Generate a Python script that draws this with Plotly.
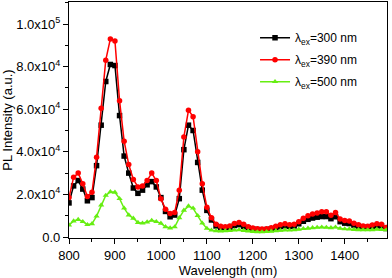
import plotly.graph_objects as go

wavelength = list(range(800, 1500, 10))

pl_300 = [16000, 24000, 26500, 22500, 17000, 18500, 33500, 52500, 73000, 81000,
          80500, 57000, 38000, 30000, 23000, 20500, 22000, 24500, 26000, 23500,
          18500, 12000, 9500, 10300, 18000, 41000, 52500, 50000, 35000, 22000,
          12500, 8000, 5200, 4400, 4200, 4500, 5400, 5800, 5000, 4200,
          3700, 3500, 3400, 3500, 3800, 4300, 4900, 5300, 5000, 5200,
          6200, 7400, 8300, 8900, 9300, 9600, 9600, 8600, 9500, 7200,
          6500, 6300, 5600, 5000, 4600, 4400, 4900, 5300, 5200, 4000]

pl_390 = [18500, 28000, 30000, 25000, 19000, 21000, 37500, 60500, 83000, 93000,
          92000, 64000, 45000, 34000, 27000, 23500, 24000, 26500, 30000, 26500,
          18000, 13000, 11000, 11500, 22000, 47000, 59500, 56500, 40000, 25000,
          14000, 9000, 6000, 5000, 4800, 5200, 6300, 6800, 6000, 4800,
          4200, 3900, 3800, 3900, 4300, 5000, 5800, 6200, 5800, 6000,
          7200, 8800, 10000, 10800, 11300, 11800, 11800, 10200, 11500, 8500,
          7800, 7500, 6500, 5800, 5200, 5000, 5600, 6200, 6000, 4500]

pl_500 = [5600, 7500, 8200, 7200, 5800, 6200, 9800, 15000, 19500, 21200,
          21000, 18000, 13500, 10300, 8800, 6800, 6500, 7000, 7800, 7200,
          6400, 4800, 4200, 4700, 9000, 12500, 14500, 13500, 10000, 6500,
          4000, 3200, 2900, 2800, 2900, 3000, 3200, 3300, 3000, 2800,
          2500, 2400, 2400, 2500, 2700, 2900, 3100, 3300, 3200, 3300,
          3600, 3900, 4100, 4300, 4500, 4600, 4500, 4300, 4600, 4000,
          3800, 3700, 3500, 3400, 3300, 3300, 3400, 3600, 3500, 3300]

series_names = ["λ<sub>ex</sub>=300 nm", "λ<sub>ex</sub>=390 nm", "λ<sub>ex</sub>=500 nm"]
series_colors = ["#000000", "#ff0000", "#66ee11"]
series_symbols = ["square", "circle", "triangle-up"]

x_tickvals = [800, 900, 1000, 1100, 1200, 1300, 1400]
x_ticktext = ["800", "900", "1000", "1100", "1200", "1300", "1400"]
y_tickvals = [0, 20000, 40000, 60000, 80000, 100000]
y_ticktext = ["0.0", "2.0x10<sup>4</sup>", "4.0x10<sup>4</sup>", "6.0x10<sup>4</sup>",
              "8.0x10<sup>4</sup>", "1.0x10<sup>5</sup>"]

fig = go.Figure()
for i, (name, ys, col, sym) in enumerate(zip(series_names, [pl_300, pl_390, pl_500],
                                              series_colors, series_symbols)):
    fig.add_trace(go.Scatter(
        x=wavelength, y=ys, name=name, mode="lines+markers", legendgroup=f"g{i}",
        line=dict(color=col, width=1.5),
        marker=dict(color=col, symbol=sym, size=5.5, line=dict(width=0)),
    ))

font_family = "Arial, Liberation Sans, sans-serif"
fig.update_layout(
    width=392, height=278,
    margin=dict(l=69, r=5, t=2, b=40, autoexpand=False),
    paper_bgcolor="white", plot_bgcolor="white",
    font=dict(family=font_family, size=13, color="black"),
    showlegend=True,
    legend=dict(x=0.585, y=0.91, xanchor="left", yanchor="top",
                bgcolor="rgba(0,0,0,0)", font=dict(size=12),
                itemwidth=30, tracegroupgap=3),
)
fig.update_xaxes(
    range=[800, 1492], tickvals=x_tickvals, ticktext=x_ticktext,
    showgrid=False, zeroline=False, showline=True, linecolor="black", linewidth=1.2,
    mirror=True, ticks="outside", ticklen=5, tickwidth=1, tickcolor="black",
    minor=dict(dtick=50, ticks="outside", ticklen=3, tickcolor="black", showgrid=False),
    title=dict(text="Wavelength (nm)", font=dict(size=13), standoff=2),
    tickfont=dict(size=13),
)
fig.update_yaxes(
    range=[-470, 110330], tickvals=y_tickvals, ticktext=y_ticktext,
    showgrid=False, zeroline=False, showline=True, linecolor="black", linewidth=1.2,
    mirror=True, ticks="outside", ticklen=5, tickwidth=1, tickcolor="black",
    minor=dict(dtick=10000, ticks="outside", ticklen=3, tickcolor="black", showgrid=False),
    title=dict(text="PL Intensity (a.u.)", font=dict(size=13), standoff=4),
    tickfont=dict(size=13),
)

fig.write_html("out.html", config={"displayModeBar": False},
               post_script="document.body.style.margin='0';document.body.style.padding='0';")
